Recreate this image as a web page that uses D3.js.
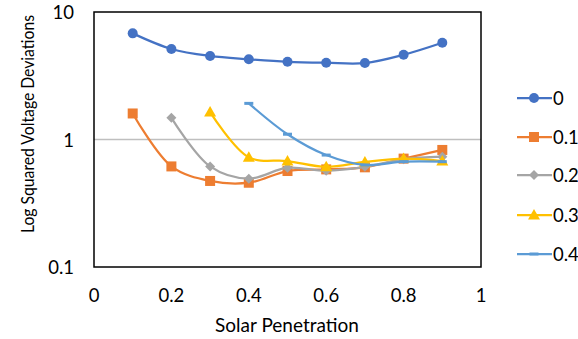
<!DOCTYPE html>
<html><head><meta charset="utf-8">
<script src="https://cdn.jsdelivr.net/npm/d3@7"></script>
<style>body{margin:0;background:#fff}text{font-family:Lato,"Open Sans",sans-serif;fill:#000}</style>
</head><body><svg id="c" width="578" height="339"></svg>
<script>
const xValues = [0.1,0.2,0.3,0.4,0.5,0.6,0.7,0.8,0.9];
const seriesNames = ["0","0.1","0.2","0.3","0.4"];
const s0  = [6.8,5.13,4.52,4.26,4.07,4.0,3.98,4.62,5.74];
const s01 = [1.6,0.615,0.473,0.458,0.566,0.583,0.605,0.708,0.828];
const s02 = [null,1.48,0.615,0.493,0.601,0.569,0.61,0.70,0.733];
const s03 = [null,null,1.64,0.725,0.678,0.61,0.667,0.708,0.678];
const s04 = [null,null,null,1.92,1.10,0.755,0.631,0.67,0.67];
const xTicks = [0,0.2,0.4,0.6,0.8,1];
const yTicks = [0.1,1,10];
const colors = ["#4472C4","#ED7D31","#A5A5A5","#FFC000","#5B9BD5"];
const markers = ["circle","square","diamond","triangle","dash"];
const allSeries = [s0,s01,s02,s03,s04];

const svg = d3.select("#c");
const L=94,R=481,T=12,B=267;
const x = d3.scaleLinear().domain([0,1]).range([L,R]);
const y = d3.scaleLog().domain([0.1,10]).range([B,T]);

svg.append("line").attr("x1",L).attr("x2",R).attr("y1",y(1)).attr("y2",y(1)).attr("stroke","#BFBFBF").attr("stroke-width",1.5);

const line = d3.line().x(d=>x(d[0])).y(d=>y(d[1])).curve(d3.curveCatmullRom.alpha(0.5));

function drawMarker(g,type,cx,cy,color){
  if(type==="circle") g.append("circle").attr("cx",cx).attr("cy",cy).attr("r",5).attr("fill",color);
  else if(type==="square") g.append("rect").attr("x",cx-5).attr("y",cy-5).attr("width",10).attr("height",10).attr("fill",color);
  else if(type==="diamond") g.append("path").attr("d",`M${cx},${cy-5}L${cx+5},${cy}L${cx},${cy+5}L${cx-5},${cy}Z`).attr("fill",color);
  else if(type==="triangle") g.append("path").attr("d",`M${cx},${cy-6}L${cx+6},${cy+4.5}L${cx-6},${cy+4.5}Z`).attr("fill",color);
  else if(type==="dash") g.append("rect").attr("x",cx-4.5).attr("y",cy-1.5).attr("width",9).attr("height",3).attr("fill",color);
}

allSeries.forEach((s,i)=>{
  const pts = xValues.map((xv,j)=>[xv,s[j]]).filter(d=>d[1]!=null);
  svg.append("path").datum(pts).attr("d",line).attr("fill","none").attr("stroke",colors[i]).attr("stroke-width",2.25);
  const g = svg.append("g");
  pts.forEach(p=>drawMarker(g,markers[i],x(p[0]),y(p[1]),colors[i]));
});

svg.append("rect").attr("x",L).attr("y",T).attr("width",R-L).attr("height",B-T).attr("fill","none").attr("stroke","#000").attr("stroke-width",1.5);

svg.selectAll(".xt").data(xTicks).enter().append("text").attr("x",d=>x(d)).attr("y",302).attr("text-anchor","middle").attr("font-size",18.5).text(d=>String(d));
svg.selectAll(".yt").data(yTicks).enter().append("text").attr("x",74).attr("y",d=>y(d)+7).attr("text-anchor","end").attr("font-size",18.5).text(d=>String(d));

svg.append("text").attr("x",287).attr("y",332).attr("text-anchor","middle").attr("font-size",19).text("Solar Penetration");
svg.append("text").attr("transform","translate(34,124) rotate(-90)").attr("text-anchor","middle").attr("font-size",16.5)
  .attr("textLength",218).attr("lengthAdjust","spacingAndGlyphs").text("Log Squared Voltage Deviations");

const legY = [98,137,175,215,254];
seriesNames.forEach((n,i)=>{
  const g = svg.append("g");
  g.append("line").attr("x1",517).attr("x2",552).attr("y1",legY[i]).attr("y2",legY[i]).attr("stroke",colors[i]).attr("stroke-width",2.25);
  drawMarker(g,markers[i],534,legY[i],colors[i]);
  g.append("text").attr("x",553).attr("y",legY[i]+6.5).attr("font-size",18.5).text(n);
});
</script></body></html>
